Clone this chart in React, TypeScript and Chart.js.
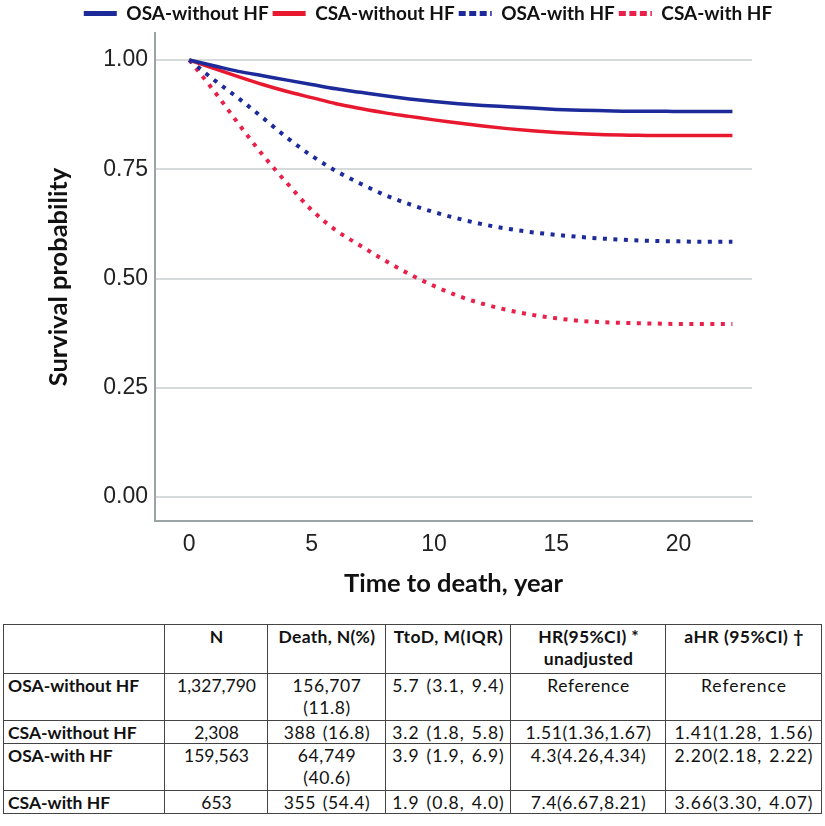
import React, { useEffect, useRef } from "react";
import { Chart, registerables } from "chart.js";

Chart.register(...registerables);

// ---- data ----
const YEARS = [0, 1, 2, 3, 4, 5, 6, 7, 8, 9, 10, 11, 12, 13, 14, 15, 16, 17, 18, 19, 20, 21, 22.2];
const OSA_NO_HF = [1.0, 0.987, 0.974, 0.964, 0.954, 0.944, 0.934, 0.926, 0.918, 0.911, 0.905, 0.9, 0.896, 0.893, 0.89, 0.887, 0.885, 0.884, 0.883, 0.883, 0.882, 0.882, 0.882];
const CSA_NO_HF = [1.0, 0.981, 0.962, 0.944, 0.928, 0.914, 0.9, 0.889, 0.879, 0.871, 0.863, 0.856, 0.849, 0.843, 0.838, 0.834, 0.831, 0.829, 0.828, 0.827, 0.827, 0.827, 0.827];
const OSA_HF = [1.0, 0.955, 0.913, 0.868, 0.822, 0.781, 0.746, 0.717, 0.691, 0.67, 0.652, 0.637, 0.624, 0.614, 0.606, 0.6, 0.595, 0.591, 0.588, 0.586, 0.585, 0.584, 0.584];
const CSA_HF = [1.0, 0.93, 0.855, 0.783, 0.718, 0.657, 0.61, 0.575, 0.541, 0.51, 0.483, 0.46, 0.442, 0.428, 0.417, 0.409, 0.403, 0.4, 0.398, 0.397, 0.396, 0.396, 0.396];
const SERIES_LABELS = ["OSA-without HF", "CSA-without HF", "OSA-with HF", "CSA-with HF"];
const X_TICKS = [0, 5, 10, 15, 20];
const Y_TICKS = [0, 0.25, 0.5, 0.75, 1];
const X_TITLE = "Time to death, year";
const Y_TITLE = "Survival probability";

const TABLE_HEADER = ["", "N", "Death, N(%)", "TtoD, M(IQR)", "HR(95%CI) *\nunadjusted", "aHR (95%CI) \u2020"];
const TABLE_ROWS = [
  ["OSA-without HF", "1,327,790", "156,707\n(11.8)", "5.7 (3.1, 9.4)", "Reference", "Reference"],
  ["CSA-without HF", "2,308", "388 (16.8)", "3.2 (1.8, 5.8)", "1.51(1.36,1.67)", "1.41(1.28, 1.56)"],
  ["OSA-with HF", "159,563", "64,749\n(40.6)", "3.9 (1.9, 6.9)", "4.3(4.26,4.34)", "2.20(2.18, 2.22)"],
  ["CSA-with HF", "653", "355 (54.4)", "1.9 (0.8, 4.0)", "7.4(6.67,8.21)", "3.66(3.30, 4.07)"],
];

// ---- styles ----
const BLUE = "#1c2a9a";
const RED = "#e8182f";
const RED_DOT = "#e8204a";
const GRID = "#d5dada";
const AXIS = "#9aa4a4";
const COL_W = [161, 103, 118, 125, 155, 156];
const ROW_H = [49, 47, 23, 47, 23];
const COL_LS = [0, 0, 0.6, 1, 0.6, 1];
const LEGEND_SHIFT = 52;

const legendShift = {
  id: "legendShift",
  afterLayout(chart: any) {
    const l = chart.legend;
    if (l) {
      l.left += LEGEND_SHIFT;
      l.right += LEGEND_SHIFT;
    }
  },
};

export default function App() {
  const ref = useRef<HTMLCanvasElement | null>(null);

  useEffect(() => {
    if (!ref.current) return;
    const series = [OSA_NO_HF, CSA_NO_HF, OSA_HF, CSA_HF];
    const colors = [BLUE, RED, BLUE, RED_DOT];
    const dotted = [false, false, true, true];
    const chart = new Chart(ref.current, {
      type: "line",
      data: {
        datasets: series.map((s, i) => ({
          label: SERIES_LABELS[i],
          data: YEARS.map((x, j) => ({ x, y: s[j] })),
          borderColor: colors[i],
          backgroundColor: colors[i],
          borderWidth: dotted[i] ? 4 : 3.5,
          borderDash: dotted[i] ? [4, 6.5] : [],
          borderCapStyle: "butt",
          pointRadius: 0,
          cubicInterpolationMode: "monotone",
          fill: false,
        })),
      },
      plugins: [legendShift],
      options: {
        responsive: false,
        animation: false,
        layout: { padding: { left: 0, right: 73, top: 0, bottom: 0 } },
        plugins: {
          tooltip: { enabled: false },
          legend: {
            position: "top",
            align: "center",
            labels: {
              usePointStyle: true,
              pointStyle: "line",
              pointStyleWidth: 33,
              padding: 4,
              color: "#111",
              font: { family: "Lato", size: 19, weight: "bold" },
              generateLabels: (c: any) => {
                const items = Chart.defaults.plugins.legend.labels.generateLabels(c);
                items.forEach((it: any, i: number) => {
                  it.lineWidth = 5;
                  it.lineDash = dotted[i] ? [7, 3.5] : [];
                  it.pointStyle = "line";
                });
                return items;
              },
            },
          },
        },
        scales: {
          x: {
            type: "linear",
            min: -1.4,
            max: 23,
            afterBuildTicks: (s: any) => {
              s.ticks = X_TICKS.map((v) => ({ value: v }));
            },
            afterFit: (s: any) => {
              s.height = 99;
            },
            grid: { display: false, drawTicks: false },
            border: { display: true, color: AXIS, width: 2 },
            ticks: {
              padding: 10,
              color: "#222",
              font: { family: "Liberation Sans", size: 23 },
              callback: (v: any) => String(v),
            },
            title: {
              display: true,
              text: X_TITLE,
              color: "#111",
              font: { family: "Lato", size: 25.5, weight: "bold" },
              padding: { top: 0, bottom: 21 },
            },
          },
          y: {
            type: "linear",
            min: -0.0549,
            max: 1.0618,
            afterBuildTicks: (s: any) => {
              s.ticks = Y_TICKS.map((v) => ({ value: v }));
            },
            afterFit: (s: any) => {
              s.width = 155;
            },
            grid: { color: GRID, lineWidth: 2, drawTicks: false },
            border: { display: true, color: AXIS, width: 2 },
            ticks: {
              padding: 7,
              color: "#222",
              font: { family: "Liberation Sans", size: 23 },
              callback: (v: any) => Number(v).toFixed(2),
            },
            title: {
              display: true,
              text: Y_TITLE,
              color: "#111",
              font: { family: "Lato", size: 25.5, weight: "bold" },
              padding: { top: 43, bottom: 0 },
            },
          },
        },
      },
    } as any);
    return () => chart.destroy();
  }, []);

  const cellBase: React.CSSProperties = {
    borderRight: "1px solid #444",
    borderBottom: "1px solid #444",
    boxSizing: "border-box",
    padding: "1px 3px 0 4px",
    textAlign: "center",
    whiteSpace: "pre-line",
    overflow: "hidden",
  };

  const allRows = [TABLE_HEADER, ...TABLE_ROWS];

  return (
    <div style={{ position: "absolute", left: 0, top: 0, width: 825, height: 826, background: "#fff" }}>
      <canvas ref={ref} width={825} height={620} style={{ position: "absolute", left: 0, top: 0, width: 825, height: 620 }} />
      <div
        style={{
          position: "absolute",
          left: 3,
          top: 624,
          display: "grid",
          gridTemplateColumns: COL_W.map((w) => w + "px").join(" "),
          gridTemplateRows: ROW_H.map((h) => h + "px").join(" "),
          borderTop: "1px solid #444",
          borderLeft: "1px solid #444",
          fontFamily: "Lato, 'Open Sans', sans-serif",
          fontSize: 17.5,
          lineHeight: "22px",
          color: "#111",
        }}
      >
        {allRows.map((row, r) =>
          row.map((cell, c) => (
            <div
              key={r + "-" + c}
              style={{
                ...cellBase,
                fontWeight: r === 0 || c === 0 ? 700 : 400,
                textAlign: c === 0 ? "left" : "center",
                letterSpacing: r === 0 ? COL_LS[c] * 0.5 : COL_LS[c],
                wordSpacing: c === 0 || r === 0 ? 0 : 1.5,
              }}
            >
              {cell}
            </div>
          ))
        )}
      </div>
    </div>
  );
}
